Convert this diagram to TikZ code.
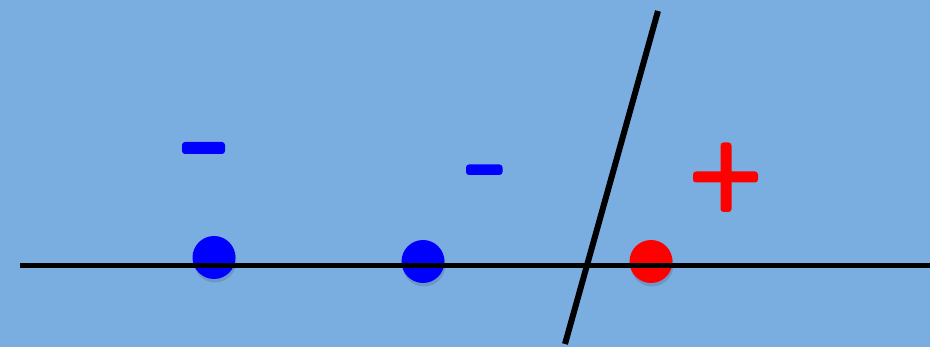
\documentclass[tikz,border=0pt]{standalone}
\definecolor{bg}{RGB}{122,174,225}
\definecolor{dotblue}{RGB}{0,0,255}
\definecolor{dotred}{RGB}{255,0,0}
\tikzset{
  dot/.style={circle, minimum size=43pt, inner sep=0pt},
  shadowdot/.style={circle, minimum size=43pt, inner sep=0pt, fill=black, fill opacity=0.12},
  axis/.style={line width=5pt, black},
  sep/.style={line width=6pt, black},
  bar/.style={rounded corners=3pt, inner sep=0pt}
}
\begin{document}
\begin{tikzpicture}[x=1pt,y=-1pt]
\fill[bg] (0,0) rectangle (930,347);
\useasboundingbox (0,0) rectangle (930,347);
% shadows
\node[shadowdot] (s1) at (215,261) {};
\node[shadowdot] (s2) at (424,265) {};
\node[shadowdot] (s3) at (652,265) {};
% axis
\coordinate (aL) at (20,266);
\coordinate (aR) at (930,266);
% dots
\node[dot, fill=dotblue] (d1) at (214,257.5) {};
\node[dot, fill=dotblue] (d2) at (423,261.5) {};
\node[dot, fill=dotred] (d3) at (651,261.5) {};
\draw[axis] (aL) -- (aR);
% separator
\coordinate (sT) at (658,11);
\coordinate (sB) at (565,344);
\draw[sep] (sT) -- (sB);
% signs
\fill[dotblue, rounded corners=3pt] (182,142) rectangle (225,154);
\fill[dotblue, rounded corners=3pt] (466,164.5) rectangle (502.5,175);
\fill[dotred, rounded corners=3pt] (693,171.5) rectangle (758,182.5);
\fill[dotred, rounded corners=3pt] (720.5,142.5) rectangle (731.5,212);
\end{tikzpicture}
\end{document}
